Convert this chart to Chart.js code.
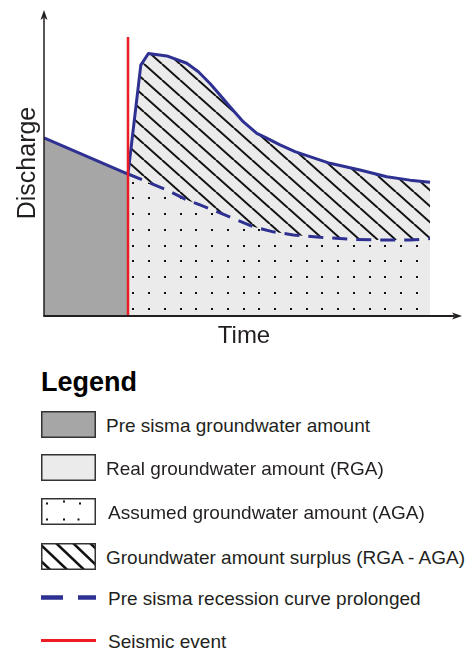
<!DOCTYPE html>
<html>
<head>
<meta charset="utf-8">
<script src="https://cdn.jsdelivr.net/npm/chart.js@4.4.0/dist/chart.umd.min.js"></script>
<style>
  body { margin: 0; background: #fff; font-family: "Liberation Sans", Arial, sans-serif; color: #231f20; }
  #wrap { position: relative; width: 468px; height: 650px; overflow: hidden; }
  #chart { position: absolute; left: 0; top: 0; }
  #lg-title { position: absolute; left: 41px; top: 367px; font-size: 27px; font-weight: bold; color: #000; line-height: normal; }
  .lg-row { position: absolute; left: 41px; height: 27px; display: flex; align-items: center; white-space: nowrap; }
  .lg-row canvas { flex: none; }
  .lg-row span { font-size: 19px; margin-left: 10px; padding-top: 3px; color: #231f20; }
</style>
</head>
<body>
<div id="wrap">
  <canvas id="chart" width="468" height="360"></canvas>
  <div id="lg-title">Legend</div>
  <div id="legend"></div>
</div>
<script>
// discharge curves (time and discharge in arbitrary units 0-100)
var preTime = [0, 21];
var preQ = [58.2, 46.4];

var eventTime = [21, 21];
var eventQ = [0, 91.2];

var realTime = [21, 24.2, 26.1, 30.7, 35.7, 38.6, 41.5, 44, 46.5, 49.8, 53.2, 55.7, 59, 62.75, 71.5, 79, 85.7, 91.5, 96.5];
var realQ = [46.4, 82.0, 85.8, 85.0, 82.6, 79.8, 76.0, 72.2, 68.4, 63.5, 59.7, 58.1, 55.9, 53.7, 49.9, 47.7, 45.5, 44.4, 43.7];

var recTime = [21, 24.8, 30.7, 35.7, 39, 42.3, 47.3, 52.3, 57.3, 62.3, 69, 76.5, 84, 91.5, 96.5];
var recQ = [46.4, 44.4, 41.2, 37.9, 36.3, 34.6, 31.9, 29.2, 27.5, 26.5, 25.7, 25.1, 24.8, 24.8, 25.3];

var legendLabels = [
    "Pre sisma groundwater amount",
    "Real groundwater amount (RGA)",
    "Assumed groundwater amount (AGA)",
    "Groundwater amount surplus (RGA - AGA)",
    "Pre sisma recession curve prolonged",
    "Seismic event"
];
var legendKinds = ["gray", "light", "dots", "hatch", "dash", "red"];

var BLUE = "#2e3192";
var RED = "#ed1c24";
var GRAY = "#a6a6a6";
var LIGHT = "#ebebeb";
var INK = "#231f20";

function pts(xs, ys){
    return xs.map((x, i) => ({x: x, y: ys[i]}));
}

// diagonal hatch tile ( \ direction )
function hatchPattern(bg){
    var c = document.createElement("canvas");
    c.width = 18; c.height = 16;
    var g = c.getContext("2d");
    if(bg){ g.fillStyle = bg; g.fillRect(0, 0, 18, 16); }
    g.strokeStyle = "#111";
    g.lineWidth = 2;
    [-18, 0, 18].forEach(o => {
        g.beginPath(); g.moveTo(o, 0); g.lineTo(o + 18, 16); g.stroke();
    });
    return g.createPattern(c, "repeat");
}

// sparse dot tile
function dotPattern(bg){
    var c = document.createElement("canvas");
    c.width = 63; c.height = 63;
    var g = c.getContext("2d");
    g.fillStyle = bg; g.fillRect(0, 0, 63, 63);
    g.fillStyle = "#111";
    for(var i = 0; i < 4; i++){
        for(var j = 0; j < 4; j++){
            g.fillRect(Math.round(6.3 + i * 15.75), Math.round(8.3 + j * 15.75), 2, 2);
        }
    }
    return g.createPattern(c, "repeat");
}

var axisArrows = {
    id: "axisArrows",
    afterDraw(chart){
        var ctx = chart.ctx, a = chart.chartArea;
        ctx.save();
        ctx.strokeStyle = INK;
        ctx.fillStyle = INK;
        // y axis
        ctx.lineWidth = 1.5;
        ctx.beginPath(); ctx.moveTo(a.left, a.bottom); ctx.lineTo(a.left, a.top + 8); ctx.stroke();
        ctx.beginPath();
        ctx.moveTo(a.left, a.top);
        ctx.lineTo(a.left + 3.5, a.top + 10);
        ctx.lineTo(a.left, a.top + 7.5);
        ctx.lineTo(a.left - 3.5, a.top + 10);
        ctx.closePath(); ctx.fill();
        // x axis
        var tip = a.right + 18;
        ctx.lineWidth = 2;
        ctx.beginPath(); ctx.moveTo(a.left - 0.75, a.bottom); ctx.lineTo(tip - 8, a.bottom); ctx.stroke();
        ctx.beginPath();
        ctx.moveTo(tip, a.bottom);
        ctx.lineTo(tip - 10, a.bottom - 3.5);
        ctx.lineTo(tip - 7.5, a.bottom);
        ctx.lineTo(tip - 10, a.bottom + 3.5);
        ctx.closePath(); ctx.fill();
        ctx.restore();
    }
};

Chart.defaults.font.family = '"Liberation Sans", Arial, sans-serif';
Chart.defaults.color = INK;

new Chart(document.getElementById("chart"), {
    type: "line",
    data: {
        datasets: [{
            label: "Seismic event",
            data: pts(eventTime, eventQ),
            borderColor: RED,
            borderWidth: 2.5,
            fill: false
        }, {
            label: "Real discharge",
            data: pts(realTime, realQ),
            borderColor: BLUE,
            borderWidth: 3,
            borderJoinStyle: "round",
            fill: "+1",
            backgroundColor: hatchPattern(LIGHT)
        }, {
            label: "Pre sisma recession curve prolonged",
            data: pts(recTime, recQ),
            borderColor: BLUE,
            borderWidth: 3,
            borderDash: [15, 9],
            fill: "origin",
            backgroundColor: dotPattern(LIGHT)
        }, {
            label: "Pre sisma discharge",
            data: pts(preTime, preQ),
            borderColor: BLUE,
            borderWidth: 3,
            fill: "origin",
            backgroundColor: GRAY
        }]
    },
    options: {
        responsive: false,
        animation: false,
        elements: { point: { radius: 0 }, line: { tension: 0 } },
        layout: { padding: { top: 10, right: 24, bottom: 0, left: 0 } },
        plugins: {
            legend: { display: false },
            tooltip: { enabled: false },
            filler: { drawTime: "beforeDatasetsDraw" }
        },
        scales: {
            x: {
                type: "linear", min: 0, max: 100,
                grid: { display: false }, border: { display: false }, ticks: { display: false },
                title: { display: true, text: "Time", font: { size: 24 }, padding: { top: 0, bottom: 9 } },
                afterFit: (s) => { s.height = 44; }
            },
            y: {
                type: "linear", min: 0, max: 100,
                grid: { display: false }, border: { display: false }, ticks: { display: false },
                title: { display: true, text: "Discharge", font: { size: 25 }, padding: { top: 13, bottom: 0 } },
                afterFit: (s) => { s.width = 44; }
            }
        }
    },
    plugins: [axisArrows]
});

// legend
function drawSwatch(cv, kind){
    var g = cv.getContext("2d");
    var w = cv.width, h = cv.height;
    if(kind == "dash" || kind == "red"){
        g.strokeStyle = kind == "dash" ? BLUE : RED;
        g.lineWidth = kind == "dash" ? 4.5 : 3;
        if(kind == "dash") g.setLineDash([22, 15]);
        g.beginPath(); g.moveTo(0, h / 2); g.lineTo(w, h / 2); g.stroke();
        return;
    }
    g.fillStyle = kind == "gray" ? GRAY : (kind == "light" ? LIGHT : "#fff");
    g.fillRect(0, 0, w, h);
    if(kind == "dots"){
        g.fillStyle = "#111";
        [[5, 4.5], [22, 2.5], [38, 4.5], [5, 20.5], [22, 20.5], [36.5, 20.5]].forEach(p => {
            g.fillRect(p[0], p[1], 2, 2);
        });
    }
    if(kind == "hatch"){
        g.strokeStyle = "#111";
        g.lineWidth = 2.5;
        for(var o = -36; o < w; o += 17){
            g.beginPath(); g.moveTo(o, 0); g.lineTo(o + h * 1.05, h); g.stroke();
        }
    }
    g.strokeStyle = "#333";
    g.lineWidth = 1.5;
    g.strokeRect(0.75, 0.75, w - 1.5, h - 1.5);
}

var lg = document.getElementById("legend");
var rowCenters = [424, 467.4, 511, 556.5, 597.7, 640.7];
legendLabels.map((v, i) => {
    var row = document.createElement("div");
    row.className = "lg-row";
    row.style.top = (rowCenters[i] - 13.5) + "px";
    var cv = document.createElement("canvas");
    cv.width = 55; cv.height = 27;
    drawSwatch(cv, legendKinds[i]);
    var sp = document.createElement("span");
    sp.textContent = v;
    if(i == 2 || i > 3) sp.style.marginLeft = "12px";
    row.appendChild(cv);
    row.appendChild(sp);
    lg.appendChild(row);
});
</script>
</body>
</html>
